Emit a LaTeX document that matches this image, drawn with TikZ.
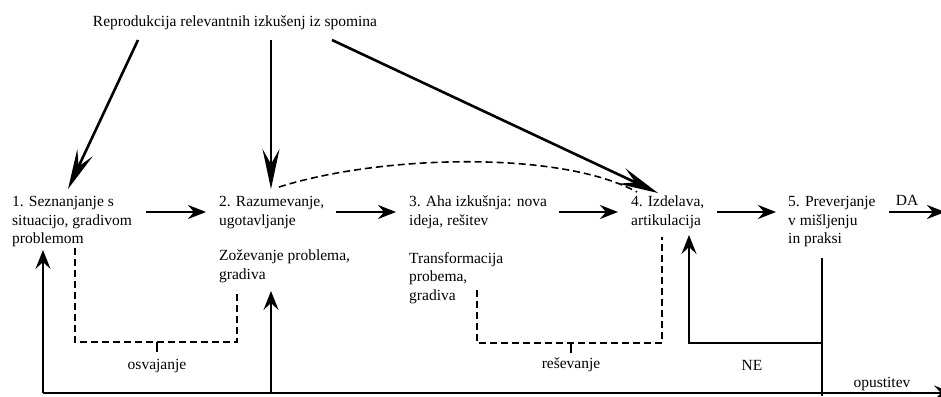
\documentclass[tikz,border=0pt]{standalone}
\usepackage{fontspec}
\setmainfont{Liberation Serif}
\usetikzlibrary{arrows.meta}
\begin{document}
\begin{tikzpicture}[x=1pt,y=-1pt,
  txt/.style={anchor=north west,inner sep=0pt,align=left,font=\fontsize{15.5}{18.7}\selectfont},
  lbl/.style={anchor=base,inner sep=0pt,font=\fontsize{15.5}{18.7}\selectfont},
  bigarrow/.style={line width=2.6pt,-{Stealth[length=40pt,width=17pt,inset=15pt]}},
  flow/.style={line width=2.6pt,-{Stealth[length=18pt,width=14pt,inset=6pt]}},
  back/.style={line width=2.2pt,-{Stealth[length=19pt,width=15pt,inset=7pt]}},
  plain/.style={line width=2.2pt},
  dashline/.style={line width=1.6pt,dash pattern=on 7pt off 4pt}]
\useasboundingbox (0,0) rectangle (941,396);
% texts
\node[lbl] (title) at (235,27) {Reprodukcija relevantnih izkušenj iz spomina};
\node[txt] (n1) at (12,196) {1. Seznanjanje s\\situacijo, gradivom\\problemom};
\node[txt] (n2) at (219,196) {2. Razumevanje,\\ugotavljanje};
\node[txt] (n2b) at (219,250) {Zoževanje problema,\\gradiva};
\node[txt] (n3) at (409,196) {3. Aha izkušnja: nova\\ideja, rešitev};
\node[txt] (n3b) at (409,252) {Transformacija\\probema,\\gradiva};
\node[txt] (n4) at (631,196) {4. Izdelava,\\artikulacija};
\node[txt] (n5) at (788,196) {5. Preverjanje\\v mišljenju\\in praksi};
\node[lbl] (da) at (907,205) {DA};
\node[lbl] (osv) at (157,369) {osvajanje};
\node[lbl] (res) at (571,368) {reševanje};
\node[lbl] (ne) at (752,370) {NE};
\node[lbl] (op) at (882,387) {opustitev};
% coordinates
\coordinate (t1) at (138,40);
\coordinate (t2) at (271,40);
\coordinate (t3) at (332,40);
\coordinate (e1) at (68,189);
\coordinate (e2) at (271,189);
\coordinate (e4) at (658,193);
% top arrows
\draw[bigarrow] (t1) -- (e1);
\draw[bigarrow] (t2) -- (e2);
\draw[bigarrow] (t3) -- (e4);
% dashed arc 2 -> 4
\coordinate (a1) at (279,187);
\coordinate (a2) at (637,192);
\draw[dashline] (a1) .. controls (380,155) and (560,150) .. (a2);
% flow arrows
\coordinate (h1s) at (146,212); \coordinate (h1e) at (206,212);
\coordinate (h2s) at (336,212); \coordinate (h2e) at (396,212);
\coordinate (h3s) at (559,212); \coordinate (h3e) at (618,212);
\coordinate (h4s) at (717,212); \coordinate (h4e) at (776,212);
\coordinate (h5s) at (889,212); \coordinate (h5e) at (945,212);
\draw[flow] (h1s) -- (h1e);
\draw[flow] (h2s) -- (h2e);
\draw[flow] (h3s) -- (h3e);
\draw[flow] (h4s) -- (h4e);
\draw[flow] (h5s) -- (h5e);
% dashed brackets
\coordinate (b1a) at (75,248);
\coordinate (b1b) at (237,290);
\coordinate (b1m) at (157,342);
\draw[dashline] (b1a) |- (b1m) -| (b1b);
\draw[line width=1.6pt] (b1m) -- ++(0,10);
\coordinate (b2a) at (477,290);
\coordinate (b2b) at (662,237);
\coordinate (b2m) at (571,343);
\draw[dashline] (b2a) |- (b2m) -| (b2b);
\draw[line width=1.6pt] (b2m) -- ++(0,10);
% NE loop
\coordinate (v5) at (822,258);
\coordinate (j5) at (822,343);
\coordinate (e4b) at (689,235);
\coordinate (vb) at (822,396);
\draw[plain] (v5) -- (vb);
\draw[back] (j5) -| (e4b);
% bottom feedback
\coordinate (bl) at (43,393);
\coordinate (br) at (953,393);
\coordinate (up1) at (43,250);
\coordinate (up2) at (271,291);
\coordinate (b2) at (271,393);
\draw[back] (bl) -- (br);
\draw[back] (bl) -- (up1);
\draw[back] (b2) -- (up2);
\end{tikzpicture}
\end{document}
